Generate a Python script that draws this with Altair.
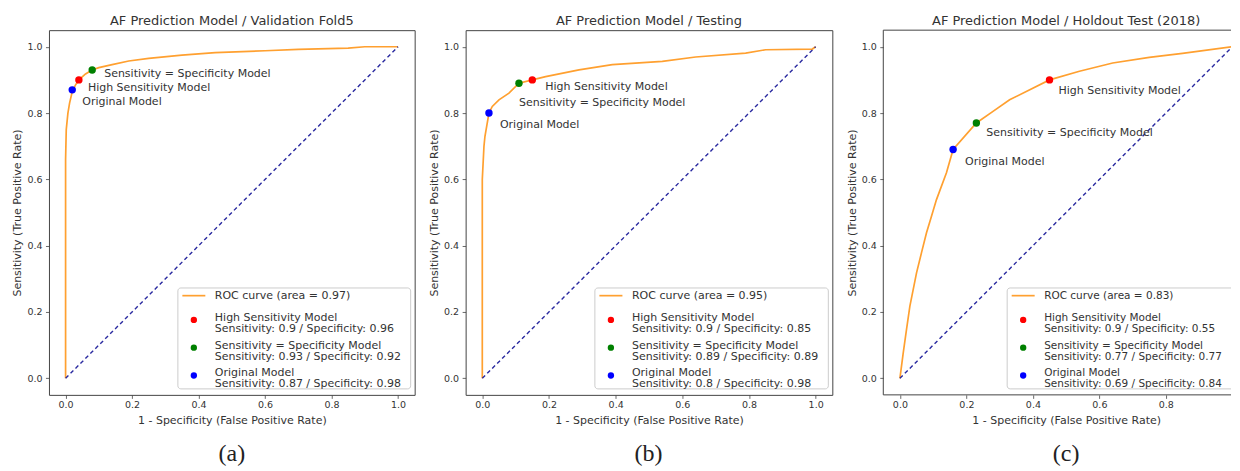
import altair as alt
import pandas as pd

# ---------------- data ----------------
titles = [
    "AF Prediction Model / Validation Fold5",
    "AF Prediction Model / Testing",
    "AF Prediction Model / Holdout Test (2018)",
]
tags = ["(a)", "(b)", "(c)"]
aucs = [0.97, 0.95, 0.83]

model_names = ["High Sensitivity Model", "Sensitivity = Specificity Model", "Original Model"]
model_colors = ["#ff0000", "#008000", "#0000ff"]

fpr_a = [0.0, 0.0, 0.0, 0.002, 0.007, 0.012, 0.02, 0.03, 0.04, 0.06, 0.08, 0.10, 0.14,
         0.19, 0.25, 0.35, 0.45, 0.60, 0.70, 0.85, 0.90, 1.0]
tpr_a = [0.0, 0.30, 0.66, 0.75, 0.80, 0.83, 0.865, 0.885, 0.90, 0.918, 0.93, 0.937, 0.946,
         0.957, 0.965, 0.975, 0.982, 0.988, 0.992, 0.996, 1.0, 1.0]

fpr_b = [0.0, 0.0, 0.005, 0.008, 0.02, 0.03, 0.05, 0.08, 0.11, 0.15, 0.19, 0.29, 0.39,
         0.54, 0.64, 0.79, 0.85, 0.99, 1.0]
tpr_b = [0.0, 0.60, 0.70, 0.73, 0.80, 0.82, 0.84, 0.86, 0.89, 0.90, 0.91, 0.93, 0.946,
         0.956, 0.969, 0.981, 0.991, 0.993, 1.0]

fpr_c = [0.0, 0.01, 0.02, 0.03, 0.05, 0.065, 0.08, 0.095, 0.11, 0.14, 0.16, 0.23, 0.28,
         0.33, 0.45, 0.54, 0.64, 0.75, 0.85, 1.0]
tpr_c = [0.0, 0.077, 0.148, 0.218, 0.318, 0.379, 0.439, 0.489, 0.539, 0.62, 0.69, 0.77, 0.805,
         0.84, 0.90, 0.926, 0.951, 0.968, 0.98, 1.0]

sens_a = [0.9, 0.93, 0.87]
spec_a = [0.96, 0.92, 0.98]
sens_b = [0.9, 0.89, 0.8]
spec_b = [0.85, 0.89, 0.98]
sens_c = [0.9, 0.77, 0.69]
spec_c = [0.55, 0.77, 0.84]

diag_x = [0.0, 1.0]
diag_y = [0.0, 1.0]
tick_vals = [0.0, 0.2, 0.4, 0.6, 0.8, 1.0]

# annotation offsets (px) for [High, Sens=Spec, Original]
label_dx = [[9, 12, 10], [13, 0, 11], [9, 10, 12]]
label_dy = [[8, 4, 12.5], [7.5, 20, 12], [11.5, 10, 12]]

# ---------------- layout ----------------
NOMINAL_W = 366          # full plot width of every panel
WIDTHS = [366, 367, 348]  # last panel is cut by the page edge
H = 365
XMIN, XMAX = -0.05, 1.05
YMIN, YMAX = -0.05, 1.05
KX = (XMAX - XMIN) / NOMINAL_W   # data units per pixel
TXT = "#333333"
ORANGE = "#ffa030"
NAVY = "#2a2aa0"
FRAME = "#444444"
FONT = "DejaVu Sans"


def panel(i, fpr, tpr, sens, spec):
    w = WIDTHS[i]
    cut = i == 2
    xmax = XMIN + w * KX if cut else XMAX
    ticks_x = [t for t in tick_vals if t <= xmax - 0.01]
    x_axis = alt.Axis(values=ticks_x, format=".1f",
                      title="1 - Specificity (False Positive Rate)",
                      **({"titleX": NOMINAL_W / 2} if cut else {}))

    def ex():
        return alt.X("x:Q", scale=alt.Scale(domain=[XMIN, xmax], nice=False, zero=False),
                     axis=x_axis)

    def ey():
        return alt.Y("y:Q", scale=alt.Scale(domain=[YMIN, YMAX], nice=False, zero=False),
                     axis=alt.Axis(values=tick_vals, format=".1f",
                                   title="Sensitivity (True Positive Rate)"))

    def px2x(px):
        return XMIN + px * KX

    def py2y(py):
        return YMAX - py / H * (YMAX - YMIN)

    roc = alt.Chart(pd.DataFrame({"x": fpr, "y": tpr})).mark_line(
        color=ORANGE, strokeWidth=1.7, clip=True
    ).encode(x=ex(), y=ey())

    diag = alt.Chart(pd.DataFrame({"x": diag_x, "y": diag_y})).mark_line(
        color=NAVY, strokeWidth=1.4, strokeDash=[4, 3], clip=True
    ).encode(x=ex(), y=ey())

    pts_df = pd.DataFrame({
        "x": [round(1 - s, 4) for s in spec],
        "y": sens,
        "model": model_names,
    })
    color_enc = alt.Color("model:N", scale=alt.Scale(domain=model_names, range=model_colors),
                          legend=None)
    pts = alt.Chart(pts_df).mark_circle(size=55, opacity=1).encode(
        x=ex(), y=ey(), color=color_enc)

    layers = [roc, diag, pts]

    for k in range(3):
        layers.append(alt.Chart(pts_df.iloc[[k]]).mark_text(
            align="left", baseline="middle", dx=label_dx[i][k], dy=label_dy[i][k],
            fontSize=11, font=FONT, color=TXT
        ).encode(x=ex(), y=ey(), text="model:N"))

    # hand-built legend (lower right of the full-size frame)
    shift = 5 if cut else 0
    leg_fs = 10.5 if cut else 11
    box_r = NOMINAL_W - 4 - shift
    box_l = box_r - 233
    box_t = 258
    box_b = 359
    layers.append(alt.Chart(pd.DataFrame({
        "x": [px2x(box_l)], "x2": [px2x(box_r)],
        "y": [py2y(box_t)], "y2": [py2y(box_b)],
    })).mark_rect(fill="white", stroke="#cccccc", strokeWidth=1, cornerRadius=3,
                  clip=True).encode(x=ex(), x2="x2:Q", y=ey(), y2="y2:Q"))

    layers.append(alt.Chart(pd.DataFrame({
        "x": [px2x(box_l + 4.5), px2x(box_l + 27.5)],
        "y": [py2y(box_t + 7.7)] * 2,
    })).mark_line(color=ORANGE, strokeWidth=1.7).encode(x=ex(), y=ey()))

    layers.append(alt.Chart(pd.DataFrame({
        "x": [px2x(box_l + 37)], "y": [py2y(box_t + 7.7)],
        "t": [f"ROC curve (area = {aucs[i]})"],
    })).mark_text(align="left", baseline="middle", fontSize=leg_fs, font=FONT, color=TXT,
                  clip=True).encode(x=ex(), y=ey(), text="t:N"))

    layers.append(alt.Chart(pd.DataFrame({
        "x": [px2x(box_l + 37)] * 3,
        "y": [py2y(box_t + 30 + k * 27.8) for k in range(3)],
        "t": [f"{model_names[k]}\nSensitivity: {sens[k]} / Specificity: {spec[k]}"
              for k in range(3)],
    })).mark_text(
        align="left", baseline="middle", fontSize=leg_fs, font=FONT, color=TXT,
        lineBreak="\n", lineHeight=11, clip=True
    ).encode(x=ex(), y=ey(), text="t:N"))

    layers.append(alt.Chart(pd.DataFrame({
        "x": [px2x(box_l + 16)] * 3,
        "y": [py2y(box_t + 32 + k * 27.8) for k in range(3)],
        "model": model_names,
    })).mark_circle(size=40, opacity=1).encode(x=ex(), y=ey(), color=color_enc))

    one = pd.DataFrame({"t": [tags[i]]})
    layers.append(alt.Chart(one).mark_text(
        font="Liberation Serif", fontSize=24, color="#222222", baseline="middle",
        align="center"
    ).encode(x=alt.value(NOMINAL_W / 2), y=alt.value(H + 59), text="t:N"))

    props = {}
    if cut:
        # frame: left, top and bottom only (right side lies beyond the page)
        layers.append(alt.Chart(one).mark_rule(color=FRAME, strokeWidth=1).encode(
            x=alt.value(0), y=alt.value(0), y2=alt.value(H)))
        layers.append(alt.Chart(one).mark_rule(color=FRAME, strokeWidth=1).encode(
            x=alt.value(0), x2=alt.value(w), y=alt.value(0)))
        layers.append(alt.Chart(one).mark_rule(color=FRAME, strokeWidth=1).encode(
            x=alt.value(0), x2=alt.value(w), y=alt.value(H)))
        props["view"] = alt.ViewBackground(stroke="transparent")

    return alt.layer(*layers).properties(
        width=w, height=H,
        title=alt.TitleParams(titles[i], fontSize=13, font=FONT, fontWeight="normal",
                              color=TXT, anchor="middle", offset=2,
                              dx=(NOMINAL_W - w) / 2 if cut else 0),
        **props,
    )


chart = alt.hconcat(
    panel(0, fpr_a, tpr_a, sens_a, spec_a),
    panel(1, fpr_b, tpr_b, sens_b, spec_b),
    panel(2, fpr_c, tpr_c, sens_c, spec_c),
    spacing=51,
    bounds="flush",
).properties(
    padding={"left": 3, "top": 6, "right": 0, "bottom": 5},
).configure_view(
    stroke=FRAME, strokeWidth=1
).configure_axis(
    grid=False, domain=False,
    labelFont=FONT, labelFontSize=9.5, labelColor=TXT,
    tickColor=FRAME, tickSize=3.5, tickWidth=0.8,
    titleFont=FONT, titleFontSize=11, titleFontWeight="normal", titleColor=TXT,
).configure_axisX(
    labelPadding=1.5, titlePadding=5,
).configure_axisY(
    labelPadding=3.5, titlePadding=4,
)

chart.save("out.html", embed_options={"renderer": "svg", "actions": False})
